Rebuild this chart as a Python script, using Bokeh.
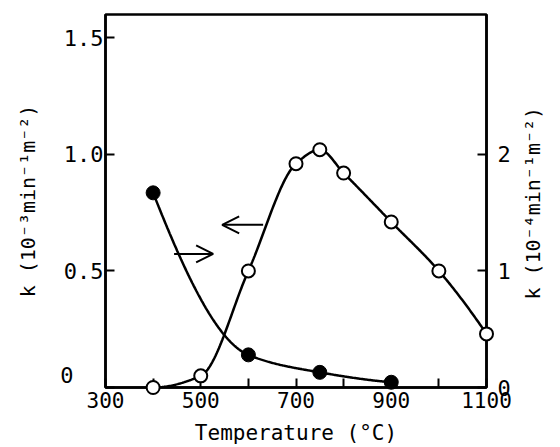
import math
import numpy as np
from bokeh.plotting import figure
from bokeh.models import Range1d, LinearAxis, FixedTicker, Arrow, OpenHead
from bokeh.embed import file_html
from bokeh.resources import INLINE

# ---- data ----
temp_open = [400, 500, 600, 700, 750, 800, 900, 1000, 1100]
k_open = [0.0, 0.05, 0.50, 0.96, 1.02, 0.92, 0.71, 0.50, 0.23]      # left axis, 10^-3 min^-1 m^-2
temp_filled = [400, 600, 750, 900]
k_filled = [1.67, 0.28, 0.13, 0.045]                                  # right axis, 10^-4 min^-1 m^-2

x_ticks = [300, 400, 500, 600, 700, 800, 900, 1000, 1100]
x_tick_labels = ["300", "", "500", "", "700", "", "900", "", "1100"]
left_ticks = [0, 0.5, 1.0, 1.5]
left_tick_labels = ["", "0.5", "1.0", "1.5"]
left_zero_tick = [0]
left_zero_label = ["0"]
right_ticks = [0, 1, 2]
right_tick_labels = ["0", "1", "2"]

x_title = "Temperature (°C)"
left_title = "k (10⁻³min⁻¹m⁻²)"
right_title = "k (10⁻⁴min⁻¹m⁻²)"
right_title_start = [0.754]   # right-axis value where the rotated right title begins

# arrows (which curve belongs to which axis)
arrow_left = dict(x_start=631, x_end=545, y=0.698)    # open circles -> left axis
arrow_right = dict(x_start=444, x_end=526, y=0.573)   # filled circles -> right axis

FONT = "DejaVu Sans Mono"
Y_MAX = 1.6
ZERO_LIFT = 13 / 236.25   # the left "0" label sits a little above the x axis


def smooth_line(x, y, n=300):
    """Monotone cubic (PCHIP) curve through the measured points, for drawing only."""
    x = np.asarray(x, float)
    y = np.asarray(y, float)
    h = np.diff(x)
    d = np.diff(y) / h
    m = np.zeros_like(y)
    for i in range(1, len(x) - 1):
        if d[i - 1] * d[i] > 0:
            w1 = 2 * h[i] + h[i - 1]
            w2 = h[i] + 2 * h[i - 1]
            m[i] = (w1 + w2) / (w1 / d[i - 1] + w2 / d[i])

    def end(h0, h1, d0, d1):
        s = ((2 * h0 + h1) * d0 - h0 * d1) / (h0 + h1)
        if np.sign(s) != np.sign(d0):
            s = 0.0
        elif np.sign(d0) != np.sign(d1) and abs(s) > 3 * abs(d0):
            s = 3 * d0
        return s

    m[0] = end(h[0], h[1], d[0], d[1])
    m[-1] = end(h[-1], h[-2], d[-1], d[-2])
    xs = np.linspace(x[0], x[-1], n)
    idx = np.clip(np.searchsorted(x, xs, side="right") - 1, 0, len(h) - 1)
    t = (xs - x[idx]) / h[idx]
    h00 = 2 * t**3 - 3 * t**2 + 1
    h10 = t**3 - 2 * t**2 + t
    h01 = -2 * t**3 + 3 * t**2
    h11 = t**3 - t**2
    ys = h00 * y[idx] + h10 * h[idx] * m[idx] + h01 * y[idx + 1] + h11 * h[idx] * m[idx + 1]
    return xs, ys


p = figure(width=560, height=447, output_backend="svg", toolbar_location=None,
           x_range=Range1d(300, 1100), y_range=Range1d(0, Y_MAX),
           min_border_left=105, min_border_right=71, min_border_top=14, min_border_bottom=55)
p.extra_y_ranges = {"right": Range1d(0, 2 * Y_MAX),
                    "zero": Range1d(-ZERO_LIFT, Y_MAX - ZERO_LIFT)}
p.grid.visible = False
p.background_fill_color = "white"
p.border_fill_color = "white"
p.outline_line_color = "black"
p.outline_line_width = 2.5

# curves
xo, yo = smooth_line(temp_open, k_open)
p.line(xo, yo, line_color="black", line_width=2.5)
xf, yf = smooth_line(temp_filled, k_filled)
p.line(xf, yf, line_color="black", line_width=2.5, y_range_name="right")

r1 = p.scatter(temp_filled, k_filled, size=14, marker="circle", fill_color="black",
               line_color="black", y_range_name="right")
r2 = p.scatter(temp_open, k_open, size=13, marker="circle", fill_color="white",
               line_color="black", line_width=2)
r1.level = "overlay"
r2.level = "overlay"


def style_axis(ax, size, title_size=21):
    ax.axis_line_width = 2.5
    ax.axis_line_color = "black"
    ax.major_tick_in = 9
    ax.major_tick_out = 0
    ax.major_tick_line_width = 2
    ax.minor_tick_line_color = None
    ax.major_label_text_font = FONT
    ax.major_label_text_font_size = f"{size}px"
    ax.major_label_text_color = "black"
    ax.axis_label_text_font = FONT
    ax.axis_label_text_font_size = f"{title_size}px"
    ax.axis_label_text_font_style = "normal"
    ax.axis_label_text_color = "black"


xa = p.xaxis[0]
style_axis(xa, 21)
xa.ticker = FixedTicker(ticks=x_ticks)
xa.major_label_overrides = dict(zip(x_ticks, x_tick_labels))
xa.axis_label = x_title
xa.major_label_standoff = 4
xa.axis_label_standoff = 10

ya = p.yaxis[0]
style_axis(ya, 22)
ya.ticker = FixedTicker(ticks=left_ticks)
ya.major_label_overrides = dict(zip(left_ticks, left_tick_labels))
ya.major_label_standoff = 2

# outer left axis: carries the raised "0" label and the left title
ya0 = LinearAxis(y_range_name="zero")
style_axis(ya0, 22, title_size=20)
ya0.axis_line_color = None
ya0.major_tick_line_color = None
ya0.ticker = FixedTicker(ticks=left_zero_tick)
ya0.major_label_overrides = dict(zip(left_zero_tick, left_zero_label))
ya0.major_label_standoff = -13
ya0.axis_label = left_title
ya0.axis_label_standoff = 17
p.add_layout(ya0, "left")

ra = LinearAxis(y_range_name="right")
style_axis(ra, 22)
ra.ticker = FixedTicker(ticks=right_ticks)
ra.major_label_overrides = dict(zip(right_ticks, right_tick_labels))
ra.major_label_standoff = 11
p.add_layout(ra, "right")

# outer right axis: only carries the right title, reading bottom-to-top
rt = LinearAxis(y_range_name="right")
style_axis(rt, 20)
rt.axis_line_color = None
rt.major_tick_line_color = None
rt.ticker = FixedTicker(ticks=right_title_start)
rt.major_label_overrides = dict(zip(right_title_start, [right_title]))
rt.major_label_orientation = math.pi / 2
rt.major_label_standoff = 20
p.add_layout(rt, "right")

for a in (arrow_left, arrow_right):
    p.add_layout(Arrow(x_start=a["x_start"], y_start=a["y"], x_end=a["x_end"], y_end=a["y"],
                       line_width=2, line_color="black",
                       end=OpenHead(size=17, line_width=2, line_color="black")))

open("out.html", "w").write(file_html(p, INLINE))
